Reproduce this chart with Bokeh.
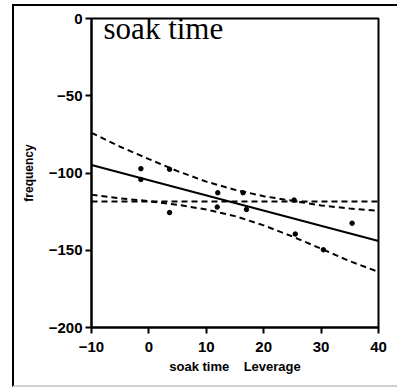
from bokeh.plotting import figure
from bokeh.models import Range1d, Label, FixedTicker, InlineStyleSheet
from bokeh.embed import file_html
from bokeh.resources import INLINE

# leverage residual points (soak time leverage vs frequency leverage)
lev_x = [-1.4, -1.4, 3.6, 3.6, 12.0, 11.9, 16.4, 17.0, 25.3, 25.5, 30.4, 35.4]
lev_y = [-97.2, -104.2, -97.6, -125.6, -112.8, -122.0, -112.8, -123.6, -117.5, -139.5, -149.7, -132.5]

# fitted line
fit_x = [-10, 40]
fit_y = [-94.8, -144.0]

# horizontal mean line
mean_x = [-10, 40]
mean_y = [-118.5, -118.5]

# confidence curves
band_x = [-10, -5, 0, 5, 10, 15, 20, 25, 30, 35, 40]
band_upper = [-74.0, -83.0, -91.0, -98.8, -105.6, -110.9, -115.0, -118.0, -121.0, -123.0, -124.5]
band_lower = [-114.0, -116.4, -118.2, -120.6, -123.6, -127.9, -133.9, -141.1, -149.0, -157.1, -164.0]

x_ticks = [-10, 0, 10, 20, 30, 40]
y_ticks = [-200, -150, -100, -50, 0]

p = figure(width=397, height=388, x_range=Range1d(-10, 40), y_range=Range1d(-200, 0),
           output_backend="svg", toolbar_location=None, title=None,
           min_border_left=91, min_border_right=19, min_border_top=18, min_border_bottom=61)
p.xgrid.visible = False
p.ygrid.visible = False
p.background_fill_color = "white"
p.border_fill_color = "white"
p.outline_line_color = "black"
p.outline_line_width = 2

for ax in (p.xaxis[0], p.yaxis[0]):
    ax.axis_line_width = 2
    ax.axis_line_color = "black"
    ax.major_tick_line_width = 2
    ax.major_tick_line_color = "black"
    ax.major_tick_out = 6
    ax.major_tick_in = 0
    ax.minor_tick_out = 0
    ax.minor_tick_in = 0
    ax.major_label_text_font = "Liberation Sans"
    ax.major_label_text_font_style = "bold"
    ax.major_label_text_font_size = "15px"
    ax.major_label_text_color = "black"
    ax.axis_label_text_font = "Liberation Sans"
    ax.axis_label_text_font_style = "bold"
    ax.axis_label_text_color = "black"

p.xaxis.ticker = FixedTicker(ticks=x_ticks)
p.yaxis.ticker = FixedTicker(ticks=y_ticks)
p.xaxis.major_label_standoff = 8
p.yaxis.major_label_standoff = 3
p.xaxis.axis_label = "soak time \u00a0\u00a0 Leverage"
p.xaxis.axis_label_text_font_size = "13px"
p.xaxis.axis_label_standoff = 4
p.yaxis.axis_label = "frequency"
p.yaxis.axis_label_text_font_size = "12px"
p.yaxis.axis_label_standoff = 10

# confidence curves and mean line
p.line(band_x, band_upper, line_color="black", line_width=2, line_dash="6 4")
p.line(band_x, band_lower, line_color="black", line_width=2, line_dash="6 4")
p.line(mean_x, mean_y, line_color="black", line_width=2, line_dash="6 4")
# fit line
p.line(fit_x, fit_y, line_color="black", line_width=2)
# points
p.scatter(lev_x, lev_y, size=4.5, color="black")

p.add_layout(Label(x=-7.9, y=-6.5, text="soak time", text_font="Liberation Serif",
                   text_font_size="31px", text_color="black", text_baseline="alphabetic"))

# outer scanned frame
p.stylesheets = [InlineStyleSheet(css="""
:host { position: relative; }
:host::after {
  content: "";
  position: absolute;
  left: 12px; top: 4px; width: 390px; height: 383px;
  box-sizing: border-box;
  border-left: 2px solid black;
  border-top: 2px solid black;
  border-bottom: 2px solid #d0d0d0;
  pointer-events: none;
}
""")]

open("out.html", "w").write(file_html(p, INLINE))
